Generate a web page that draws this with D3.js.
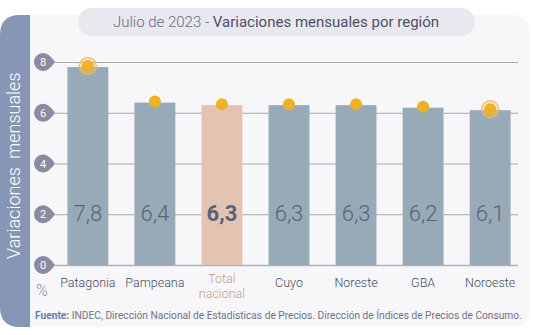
<!DOCTYPE html>
<html>
<head>
<meta charset="utf-8">
<script src="https://cdn.jsdelivr.net/npm/d3@7"></script>
<style>
  body { margin: 0; background: #ffffff; }
  svg { display: block; font-family: Roboto, "Liberation Sans", Arial, sans-serif; font-weight: 300; }
</style>
</head>
<body>
<svg></svg>
<script>
var regiones = ["Patagonia", "Pampeana", "Total nacional", "Cuyo", "Noreste", "GBA", "Noroeste"];
var variaciones = [7.8, 6.4, 6.3, 6.3, 6.3, 6.2, 6.1];
var yTicks = [0, 2, 4, 6, 8];

var svgWidth = 533,
  svgHeight = 335;

var svg = d3.select("svg").attr("width", svgWidth).attr("height", svgHeight);

// panel background
svg.append("rect")
  .attr("x", 14).attr("y", 15)
  .attr("width", 516).attr("height", 312)
  .attr("rx", 16)
  .attr("fill", "#f7f7fa");

// left side band with rounded left corners
svg.append("path")
  .attr("d", "M30,15 L30,327 L20,327 Q0,327 0,307 L0,35 Q0,15 20,15 Z")
  .attr("fill", "#8796b5");

svg.append("text")
  .attr("transform", "translate(20,259) rotate(-90)")
  .attr("text-anchor", "start")
  .attr("fill", "#ffffff")
  .attr("font-size", 18)
  .attr("word-spacing", 4)
  .text("Variaciones mensuales");

// title pill
svg.append("rect")
  .attr("x", 78).attr("y", 8)
  .attr("width", 397).attr("height", 28)
  .attr("rx", 14)
  .attr("fill", "#e8e9ef");

var title = svg.append("text")
  .attr("x", 276).attr("y", 27)
  .attr("text-anchor", "middle")
  .attr("font-size", 15)
  .attr("fill", "#6a6885");
title.append("tspan").text("Julio de 2023 - ");
title.append("tspan").attr("font-weight", 400).attr("fill", "#4f4d6a").text("Variaciones mensuales por región");

var x = d3.scaleBand()
  .domain(regiones)
  .range([54, 524])
  .paddingInner(0.39)
  .paddingOuter(0.2);

var y = d3.scaleLinear()
  .domain([0, 8])
  .range([265, 62]);

// gridlines
svg.append("g")
  .selectAll("line")
  .data(yTicks)
  .enter()
  .append("line")
  .attr("x1", 55).attr("x2", 518)
  .attr("y1", function (d) { return y(d) + 0.5; })
  .attr("y2", function (d) { return y(d) + 0.5; })
  .attr("stroke", function (d) { return d === 0 ? "#b0b2bb" : "#a9aab2"; })
  .attr("stroke-width", function (d) { return d === 0 ? 1.5 : 1; });

// tick badges (drop shaped, pointing right)
var badge = svg.append("g")
  .selectAll("g")
  .data(yTicks)
  .enter()
  .append("g")
  .attr("transform", function (d) { return "translate(43," + y(d) + ")"; });

badge.append("path")
  .attr("d", "M0,-9 A9,9 0 1,0 0,9 Q6,9 12,0 Q6,-9 0,-9 Z")
  .attr("fill", "#8a8ba1");

badge.append("text")
  .attr("x", 0).attr("y", 4)
  .attr("text-anchor", "middle")
  .attr("font-size", 11)
  .attr("font-weight", 400)
  .attr("fill", "#ffffff")
  .text(function (d) { return d; });

// bars
svg.append("g")
  .selectAll("rect")
  .data(variaciones)
  .enter()
  .append("rect")
  .attr("x", function (d, i) { return x(regiones[i]); })
  .attr("y", function (d) { return y(d); })
  .attr("width", x.bandwidth())
  .attr("height", function (d) { return y(0) - y(d); })
  .attr("fill", function (d, i) { return regiones[i] === "Total nacional" ? "#e3c3b1" : "#98aab8"; });

// value labels
svg.append("g")
  .selectAll("text")
  .data(variaciones)
  .enter()
  .append("text")
  .attr("x", function (d, i) { return x(regiones[i]) + x.bandwidth() / 2; })
  .attr("y", 221)
  .attr("text-anchor", "middle")
  .attr("font-size", 22)
  .attr("font-weight", function (d, i) { return regiones[i] === "Total nacional" ? 700 : 300; })
  .attr("fill", "#56637b")
  .text(function (d) { return d3.format(".1f")(d).replace(".", ","); });

// markers at the top of each bar; highest and lowest get a ring
var maxV = d3.max(variaciones), minV = d3.min(variaciones);
var dots = svg.append("g")
  .selectAll("g")
  .data(variaciones)
  .enter()
  .append("g")
  .attr("transform", function (d, i) {
    return "translate(" + (x(regiones[i]) + x.bandwidth() / 2) + "," + (y(d) - 1) + ")";
  });

dots.filter(function (d) { return d === maxV || d === minV; })
  .append("circle")
  .attr("r", 8.5)
  .attr("fill", "#f3c56a")
  .attr("fill-opacity", 0.35)
  .attr("stroke", "#f1b84a")
  .attr("stroke-opacity", 0.8)
  .attr("stroke-width", 1.5);

dots.append("circle")
  .attr("r", 6)
  .attr("fill", "#efb125");

// category labels
var cat = svg.append("g")
  .selectAll("text")
  .data(regiones)
  .enter()
  .append("text")
  .attr("x", function (d) { return x(d) + x.bandwidth() / 2; })
  .attr("y", 287)
  .attr("text-anchor", "middle")
  .attr("font-size", 12.5)
  .attr("fill", function (d) { return d === "Total nacional" ? "#c39c89" : "#464b5a"; });

cat.each(function (d) {
  var t = d3.select(this);
  if (d === "Total nacional") {
    t.append("tspan").attr("x", x(d) + x.bandwidth() / 2).attr("y", 283).text("Total");
    t.append("tspan").attr("x", x(d) + x.bandwidth() / 2).attr("y", 298).text("nacional");
  } else {
    t.text(d);
  }
});

svg.append("text")
  .attr("x", 42).attr("y", 296)
  .attr("text-anchor", "middle")
  .attr("font-size", 16)
  .attr("fill", "#8a8ba1")
  .text("%");

// source line
var src = svg.append("text")
  .attr("x", 35).attr("y", 319)
  .attr("font-size", 10.2)
  .attr("fill", "#6f7282");
src.append("tspan").attr("font-weight", 700).attr("fill", "#6a7ca6").text("Fuente:");
src.append("tspan").attr("font-weight", 400).text(" INDEC, Dirección Nacional de Estadísticas de Precios. Dirección de Índices de Precios de Consumo.");
</script>
</body>
</html>
